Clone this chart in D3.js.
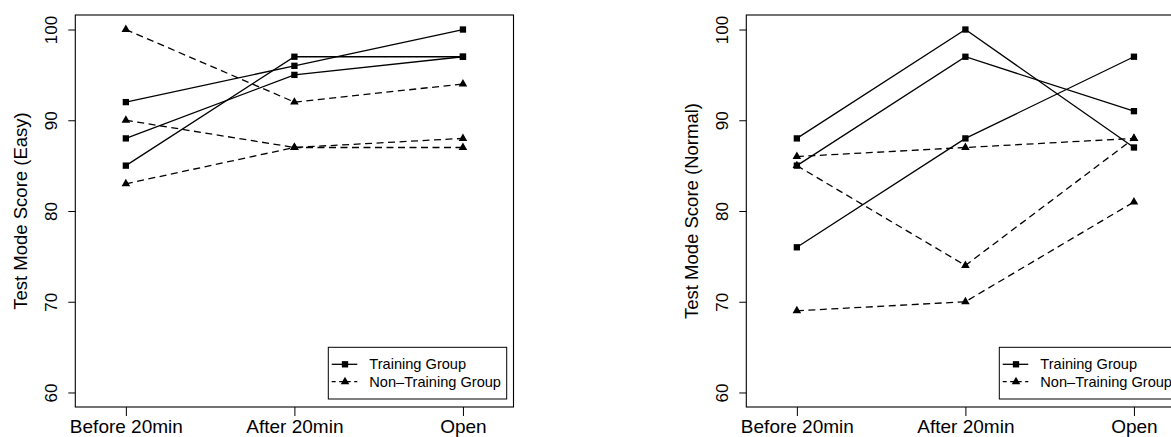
<!DOCTYPE html>
<html>
<head>
<meta charset="utf-8">
<script src="https://cdn.jsdelivr.net/npm/d3@7"></script>
<style>
  body { margin: 0; background: #fff; }
  svg { display: block; font-family: "Liberation Sans", Arial, sans-serif; }
</style>
</head>
<body>
<svg id="chart" width="1171" height="437"></svg>
<script>
// categories / ticks
var phases = ["Before 20min", "After 20min", "Open"];
var yTicks = [60, 70, 80, 90, 100];
var legendLabels = ["Training Group", "Non\u2013Training Group"];

// Easy mode scores, one array per subject
var easyTraining = [[92, 96, 100], [88, 95, 97], [85, 97, 97]];
var easyNonTraining = [[100, 92, 94], [90, 87, 88], [83, 87, 87]];

// Normal mode scores
var normalTraining = [[88, 100, 87], [85, 97, 91], [76, 88, 97]];
var normalNonTraining = [[86, 87, 88], [85, 74, 88], [69, 70, 81]];

var svg = d3.select("#chart");

function drawPanel(left, title, training, nonTraining) {
    var w = 438.2, top = 15, bottom = 407;
    var g = svg.append("g").attr("transform", "translate(" + left + ",0)");

    var x = d3.scaleLinear().domain([0.7, 3.3]).range([0, w]);
    var y = d3.scaleLinear().domain([58.4, 101.6]).range([bottom, top]);

    var line = d3.line()
        .x(function (d, i) { return x(i + 1); })
        .y(function (d) { return y(d); });

    // non-training first (dashed, triangles)
    nonTraining.forEach(function (s) {
        g.append("path").attr("d", line(s))
            .attr("fill", "none").attr("stroke", "#000")
            .attr("stroke-width", 1.3).attr("stroke-dasharray", "7,4.5");
    });
    training.forEach(function (s) {
        g.append("path").attr("d", line(s))
            .attr("fill", "none").attr("stroke", "#000")
            .attr("stroke-width", 1.3);
    });

    var tri = d3.symbol().type(d3.symbolTriangle).size(32);
    var sq = d3.symbol().type(d3.symbolSquare).size(40);
    nonTraining.forEach(function (s) {
        g.selectAll(null).data(s).enter().append("path")
            .attr("d", tri)
            .attr("transform", function (d, i) { return "translate(" + x(i + 1) + "," + y(d) + ")"; });
    });
    training.forEach(function (s) {
        g.selectAll(null).data(s).enter().append("path")
            .attr("d", sq)
            .attr("transform", function (d, i) { return "translate(" + x(i + 1) + "," + y(d) + ")"; });
    });

    // box
    g.append("rect").attr("x", 0).attr("y", top)
        .attr("width", w).attr("height", bottom - top)
        .attr("fill", "none").attr("stroke", "#000").attr("stroke-width", 1.1);

    // x axis
    var xAxis = g.append("g").attr("transform", "translate(0," + bottom + ")")
        .call(d3.axisBottom(x).tickValues([1, 2, 3])
            .tickFormat(function (d) { return phases[d - 1]; })
            .tickSize(9).tickPadding(4));
    xAxis.select(".domain").remove();
    xAxis.selectAll("text").attr("font-size", 19).attr("fill", "#000")
        .attr("font-family", null);

    // y axis
    var yAxis = g.append("g")
        .call(d3.axisLeft(y).tickValues(yTicks).tickSize(7));
    yAxis.select(".domain").remove();
    yAxis.selectAll("text")
        .attr("x", 0).attr("y", -18).attr("dy", 0)
        .attr("text-anchor", "middle")
        .attr("transform", "rotate(-90)")
        .attr("font-size", 17).attr("fill", "#000")
        .attr("font-family", null);

    g.append("text")
        .attr("transform", "translate(-48.5," + ((top + bottom) / 2) + ") rotate(-90)")
        .attr("text-anchor", "middle")
        .attr("font-size", 18.5)
        .text(title);

    // legend
    var lg = g.append("g").attr("transform", "translate(253,347.3)");
    lg.append("rect").attr("width", 178.4).attr("height", 51.7)
        .attr("fill", "#fff").attr("stroke", "#000").attr("stroke-width", 1);
    legendLabels.forEach(function (lab, i) {
        var ly = 17 + i * 17.4;
        lg.append("line").attr("x1", 3.4).attr("x2", 29).attr("y1", ly).attr("y2", ly)
            .attr("stroke", "#000").attr("stroke-width", 1.3)
            .attr("stroke-dasharray", i === 0 ? null : "4,3.5");
        lg.append("path").attr("d", i === 0 ? sq : tri)
            .attr("transform", "translate(16.7," + ly + ")");
        lg.append("text").attr("x", 41).attr("y", ly).attr("dy", "0.35em")
            .attr("font-size", 14.6).text(lab);
    });
}

drawPanel(75.3, "Test Mode Score (Easy)", easyTraining, easyNonTraining);
drawPanel(746.3, "Test Mode Score (Normal)", normalTraining, normalNonTraining);
</script>
</body>
</html>
